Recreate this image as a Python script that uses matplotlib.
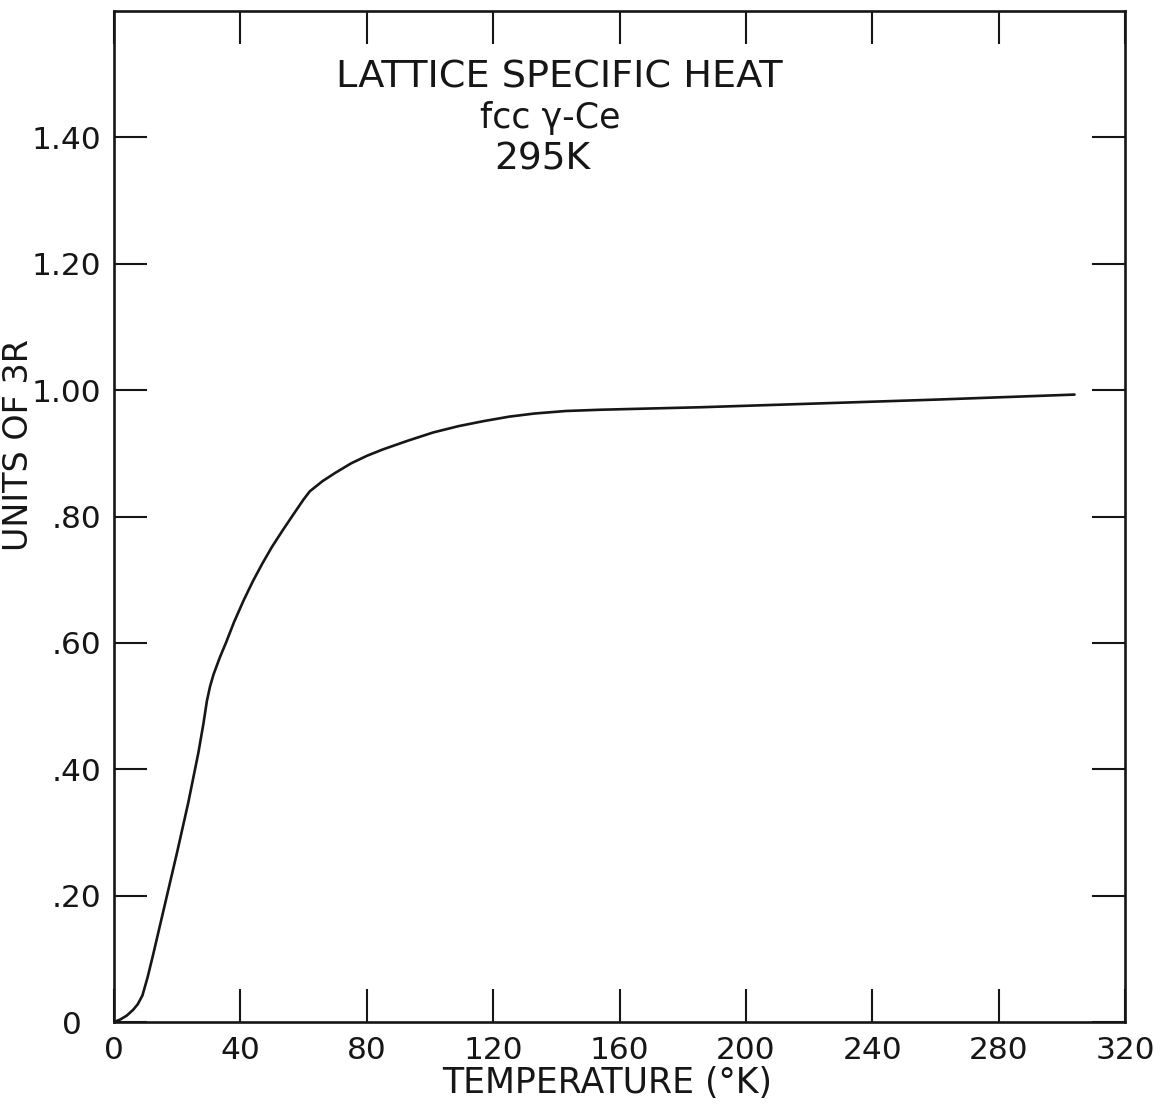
import matplotlib
matplotlib.use("Agg")
import matplotlib.pyplot as plt
from matplotlib.transforms import ScaledTranslation

# lattice specific heat of fcc gamma-Ce (units of 3R) vs temperature (K)
temperature = [0, 2, 4, 6, 7.5, 9, 10.7, 12.5, 16.2, 19.9, 23.5, 26.7, 28.3,
               29.4, 30.4, 31.5, 33.5, 35.5, 38, 41, 44, 47, 50, 53.5, 57, 60,
               62, 66, 70, 75, 80, 85, 93, 101, 109, 117, 125, 133, 143, 154,
               186, 217, 260, 304]
heat = [0, 0.004, 0.010, 0.019, 0.028, 0.042, 0.072, 0.109, 0.188, 0.267,
        0.347, 0.426, 0.472, 0.508, 0.531, 0.550, 0.577, 0.601, 0.633, 0.667,
        0.698, 0.726, 0.752, 0.779, 0.805, 0.827, 0.840, 0.856, 0.869, 0.884,
        0.896, 0.906, 0.920, 0.933, 0.943, 0.951, 0.958, 0.963, 0.967, 0.969,
        0.973, 0.978, 0.985, 0.993]

x_ticks = [0, 40, 80, 120, 160, 200, 240, 280, 320]
y_ticks = [0, 0.2, 0.4, 0.6, 0.8, 1.0, 1.2, 1.4]
y_tick_labels = ["0", ".20", ".40", ".60", ".80", "1.00", "1.20", "1.40"]
title_lines = ["LATTICE SPECIFIC HEAT", "fcc γ-Ce", "295K"]

ink = "#161616"
plt.rcParams["font.family"] = ["DejaVu Sans"]

fig = plt.figure(figsize=(11.62, 11.15), dpi=100)
ax = fig.add_axes([0.0981, 0.0834, 0.8701, 0.9067])

ax.plot(temperature, heat, color=ink, lw=1.9,
        solid_joinstyle="round", solid_capstyle="round")

ax.set_xlim(0, 320)
ax.set_ylim(0, 1.6)
ax.set_xticks(x_ticks)
ax.set_xticklabels([str(t) for t in x_ticks])
ax.set_yticks(y_ticks)
ax.set_yticklabels(y_tick_labels)

for s in ax.spines.values():
    s.set_linewidth(1.9)
    s.set_color(ink)

ax.tick_params(axis="both", direction="in", length=24, width=1.5,
               colors=ink, labelsize=22.5, top=True, right=True)
ax.tick_params(axis="x", pad=10)
ax.tick_params(axis="y", pad=9)

# the zero on the y axis sits further out than the other labels
zero_lab = ax.get_yticklabels()[0]
zero_lab.set_transform(zero_lab.get_transform() +
                       ScaledTranslation(-20 / 100, 0, fig.dpi_scale_trans))

ax.set_xlabel("TEMPERATURE (°K)", fontsize=25, color=ink)
ax.xaxis.set_label_coords(0.488, -0.044)
ax.set_ylabel("UNITS OF 3R", fontsize=24, color=ink)
ax.yaxis.set_label_coords(-0.078, 0.571)

ax.text(0.440, 0.924, title_lines[0], transform=ax.transAxes, ha="center",
        va="baseline", fontsize=27.5, color=ink)
ax.text(0.431, 0.884, title_lines[1], transform=ax.transAxes, ha="center",
        va="baseline", fontsize=25, color=ink)
ax.text(0.424, 0.843, title_lines[2], transform=ax.transAxes, ha="center",
        va="baseline", fontsize=27, color=ink)

fig.savefig("out.png", dpi=100, facecolor="white")
